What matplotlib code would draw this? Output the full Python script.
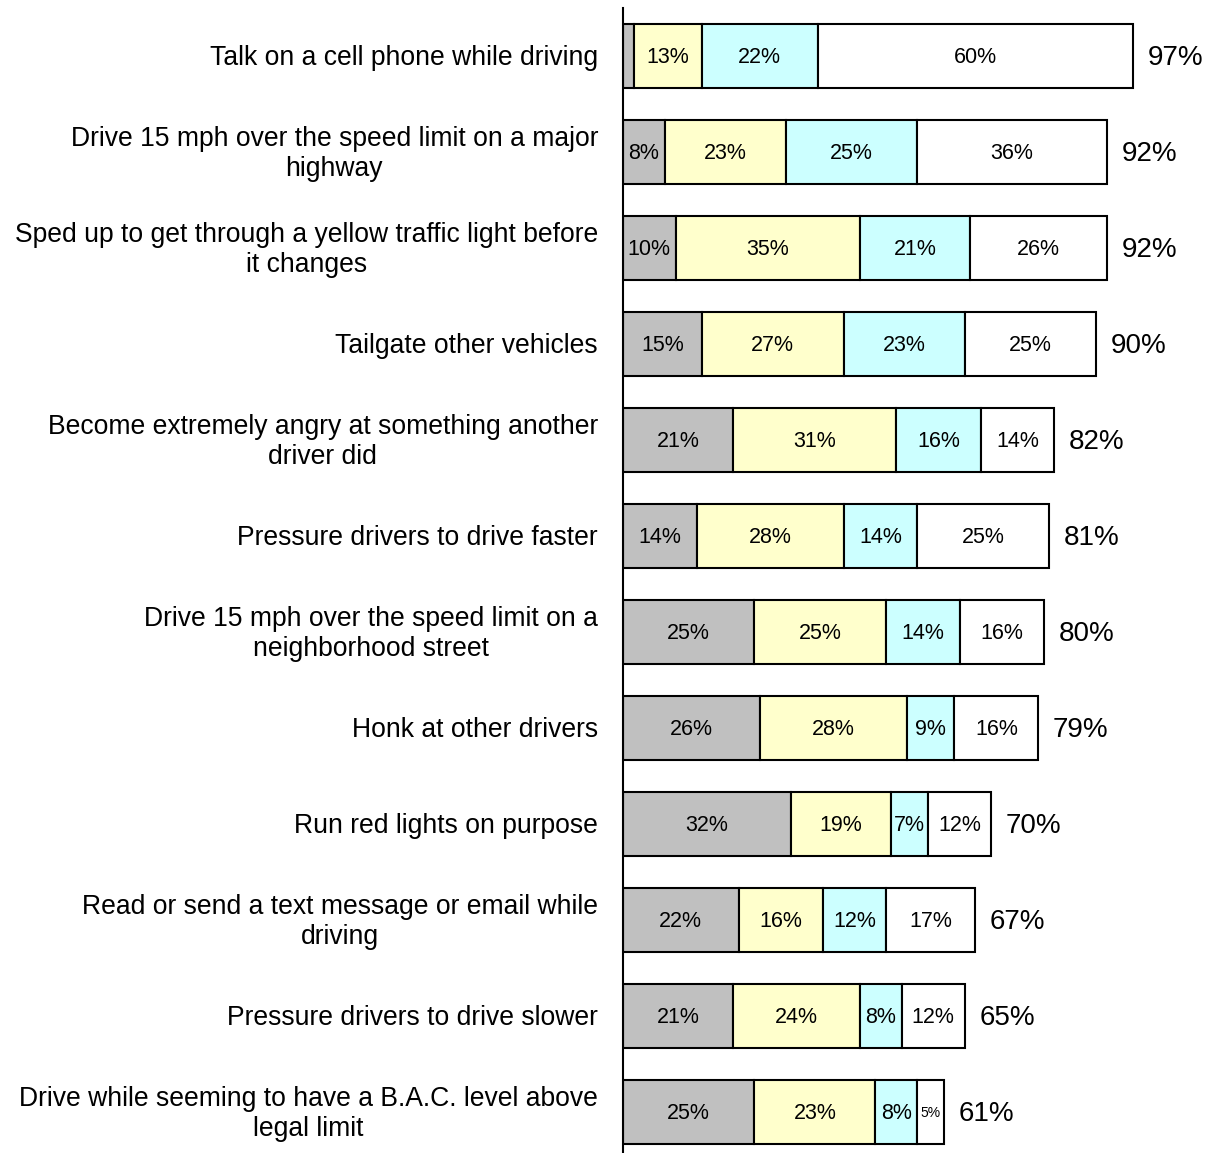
import numpy as np
import matplotlib.pyplot as plt

plt.rcParams['font.family'] = ['Liberation Sans', 'DejaVu Sans']

# survey items, top to bottom
behaviors = [
    "Talk on a cell phone while driving",
    "Drive 15 mph over the speed limit on a major\nhighway",
    "Sped up to get through a yellow traffic light before\nit changes",
    "Tailgate other vehicles",
    "Become extremely angry at something another\ndriver did",
    "Pressure drivers to drive faster",
    "Drive 15 mph over the speed limit on a\nneighborhood street",
    "Honk at other drivers",
    "Run red lights on purpose",
    "Read or send a text message or email while\ndriving",
    "Pressure drivers to drive slower",
    "Drive while seeming to have a B.A.C. level above\nlegal limit",
]

# percent per response band
seg_gray = [2, 8, 10, 15, 21, 14, 25, 26, 32, 22, 21, 25]
seg_yellow = [13, 23, 35, 27, 31, 28, 25, 28, 19, 16, 24, 23]
seg_cyan = [22, 25, 21, 23, 16, 14, 14, 9, 7, 12, 8, 8]
seg_white = [60, 36, 26, 25, 14, 25, 16, 16, 12, 17, 12, 5]
totals = [97, 92, 92, 90, 82, 81, 80, 79, 70, 67, 65, 61]

colors = ["#C0C0C0", "#FFFFCC", "#CCFFFF", "#FFFFFF"]

W, H = 1214, 1153
fig = plt.figure(figsize=(W / 100, H / 100), dpi=100)
ax = fig.add_axes([623 / W, (1153 - 1160) / H, 591 / W, 1152 / H])

y = np.arange(len(behaviors))
left = np.zeros(len(behaviors))
for vals, c in zip([seg_gray, seg_yellow, seg_cyan, seg_white], colors):
    vals = np.array(vals)
    ax.barh(y, vals, left=left, height=0.667, color=c,
            edgecolor="black", linewidth=1.5, zorder=2)
    for yi, l, v in zip(y, left, vals):
        if v < 5:
            continue
        fs = 10 if v == 5 else 15.5
        ax.text(l + v / 2, yi + 0.015, f"{v}%", ha="center", va="center",
                fontsize=fs, color="black", zorder=3)
    left = left + vals

for yi, t in zip(y, totals):
    ax.text(t + 2.8, yi + 0.02, f"{t}%", ha="left", va="center", fontsize=20)

for yi, name in zip(y, behaviors):
    ax.text(-4.75, yi + 0.02, name, ha="right", va="center",
            multialignment="center", fontsize=19.1, linespacing=1.22)

ax.set_xlim(0, 112.4)
ax.set_ylim(11.5, -0.5)
ax.set_xticks([])
ax.set_yticks([])
for s in ["top", "right", "bottom"]:
    ax.spines[s].set_visible(False)
ax.spines["left"].set_linewidth(1.5)
ax.patch.set_alpha(0)

fig.savefig("out.png", dpi=100)
